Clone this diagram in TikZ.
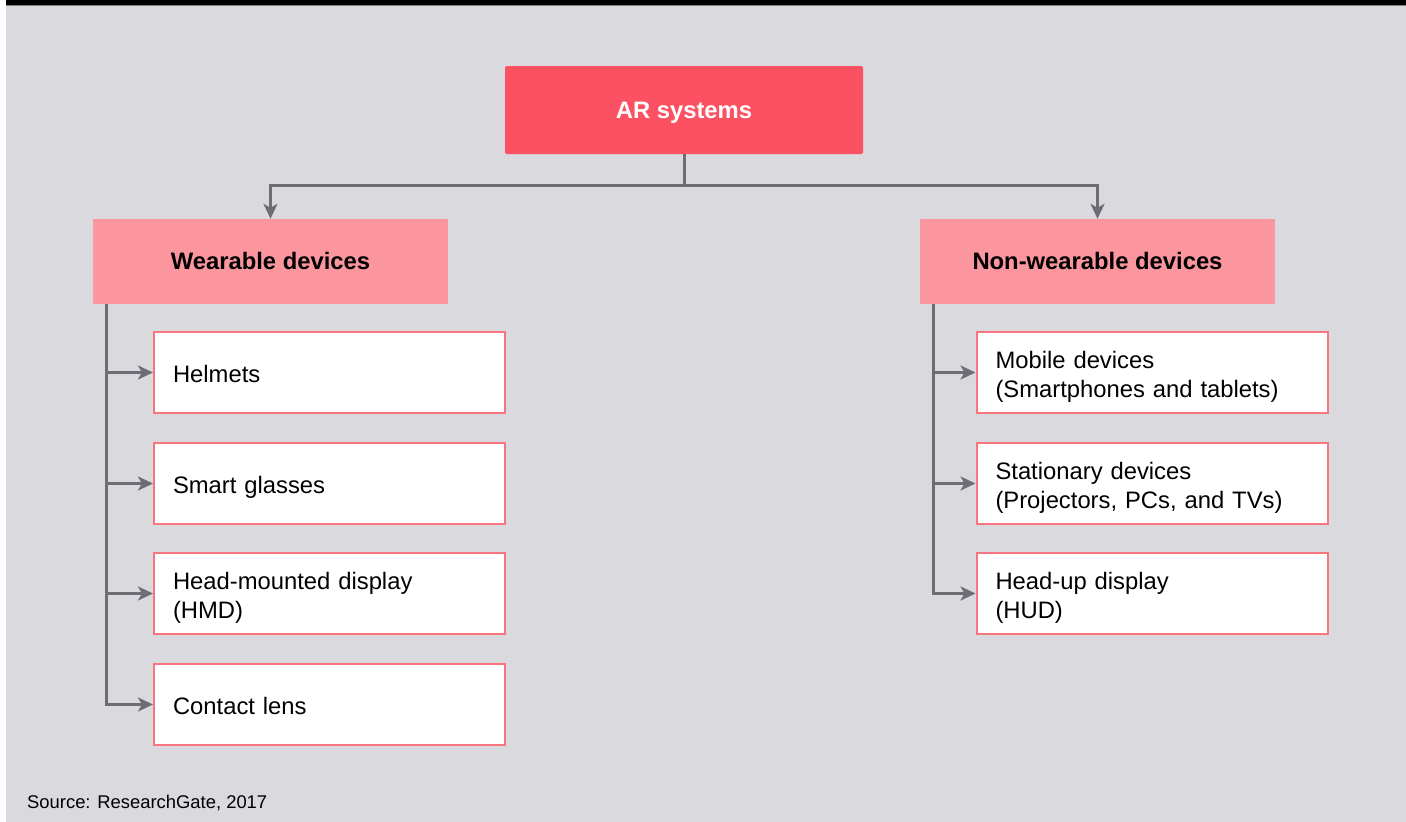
\documentclass[tikz,border=0pt]{standalone}
\usepackage{fontspec}
\setmainfont{Liberation Sans}
\usetikzlibrary{arrows.meta}
\definecolor{bgc}{HTML}{DAD9DE}
\definecolor{arred}{HTML}{FC5163}
\definecolor{pinkc}{HTML}{FB969E}
\definecolor{borderc}{HTML}{F8747F}
\definecolor{linec}{HTML}{6D6D75}
\tikzset{
  rootbox/.style={fill=arred, rounded corners=2pt, minimum width=358pt, minimum height=88pt, inner sep=0pt, text=white, text height=17pt, text depth=0.5pt, font=\fontsize{23.8pt}{29pt}\selectfont\bfseries},
  catbox/.style={fill=pinkc, minimum width=355pt, minimum height=85pt, inner sep=0pt, text=black, text height=17pt, text depth=1pt, font=\fontsize{23.8pt}{29pt}\selectfont\bfseries},
  itembox/.style={fill=white, draw=borderc, line width=2pt, minimum height=81pt, text width=313pt, inner xsep=19pt, inner ysep=0pt, align=left, font=\fontsize{23.8pt}{29pt}\selectfont,
    execute at begin node={\rule{0pt}{25pt}}, execute at end node={\rule[-5pt]{0pt}{5pt}}},
  conn/.style={draw=linec, line width=3pt},
  arr/.style={conn, -{Stealth[length=15pt,width=14pt,inset=4pt]}},
}
\begin{document}
\begin{tikzpicture}[x=1pt,y=-1pt]
\fill[white] (0,0) rectangle (1406,822);
\fill[bgc] (6,0) rectangle (1406,822);
\fill[black] (6,0) rectangle (1406,5);
\fill[gray] (6,5) rectangle (1406,6.2);
\useasboundingbox (0,0) rectangle (1406,822);

\node[rootbox] (ar) at (684,110) {AR systems};
\node[catbox] (wear) at (270.5,261.5) {Wearable devices};
\node[catbox] (nonwear) at (1097.5,261.5) {Non-wearable devices};

\node[itembox] (w1) at (329.5,372.5) {Helmets};
\node[itembox] (w2) at (329.5,483.5) {Smart glasses};
\node[itembox] (w3) at (329.5,593.5) {Head-mounted display\\(HMD)};
\node[itembox] (w4) at (329.5,704.5) {Contact lens};

\node[itembox] (n1) at (1152,372.5) {Mobile devices\\(Smartphones and tablets)};
\node[itembox] (n2) at (1152,483.5) {Stationary devices\\(Projectors, PCs, and TVs)};
\node[itembox] (n3) at (1152,593.5) {Head-up display\\(HUD)};

\node[anchor=base west, font=\fontsize{18.4pt}{22pt}\selectfont, inner sep=0pt] (src) at (27,808) {Source: ResearchGate, 2017};

\draw[arr] (ar.south) -- ++(0,31) -| (wear.north);
\draw[arr] (ar.south) -- ++(0,31) -| (nonwear.north);

\foreach \c in {w1,w2,w3,w4}{
  \draw[arr] ([xshift=14pt]wear.south west) |- (\c.west);
}
\foreach \c in {n1,n2,n3}{
  \draw[arr] ([xshift=14pt]nonwear.south west) |- (\c.west);
}
\end{tikzpicture}
\end{document}
